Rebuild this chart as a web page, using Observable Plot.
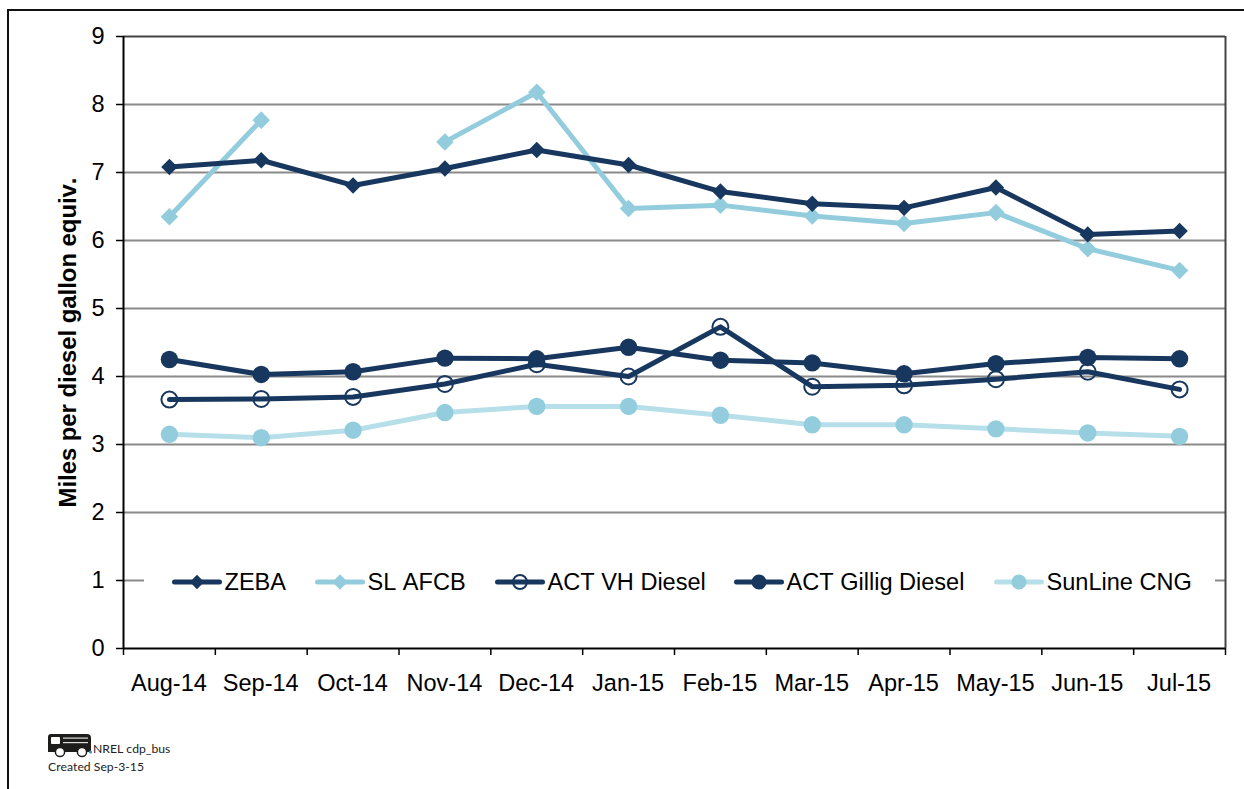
<!DOCTYPE html>
<html>
<head>
<meta charset="utf-8">
<script src="https://cdn.jsdelivr.net/npm/d3@7"></script>
<script src="https://cdn.jsdelivr.net/npm/@observablehq/plot@0.6"></script>
<style>
  html, body { margin: 0; padding: 0; background: #fff; overflow: hidden; }
  #page { position: relative; width: 1244px; height: 789px; font-family: "Liberation Sans", Arial, sans-serif; font-kerning: none; }
  #page svg { display: block; }
  #page svg text { font-kerning: none; }
  #border { position: absolute; left: 7px; top: 9px; right: 0; bottom: 0; border-top: 2px solid #111; border-left: 2px solid #111; }
  #legend { position: absolute; left: 144px; top: 566px; width: 1071px; height: 32px; background: #fff; }
  .item { position: absolute; top: 0; height: 32px; }
  .item svg { position: absolute; left: 0; top: 0; }
  .item span { position: absolute; top: 3px; font-size: 23.55px; line-height: 26px; color: #000; white-space: nowrap; }
  #credit { position: absolute; left: 47px; top: 733px; font-family: "Lato", sans-serif; font-size: 12.2px; color: #222; }
  #credit svg { position: absolute; left: 0; top: 0; }
  #credit div { position: absolute; white-space: nowrap; line-height: 14px; }
</style>
</head>
<body>
<div id="page"><div id="border"></div><div id="chart"></div><div id="legend"></div>
  <div id="credit">
    <svg width="46" height="26" viewBox="0 0 46 26">
      <path d="M4 1H40Q44 1 44 5V19H1V4Q1 1 4 1Z" fill="#1d1d1b"/>
      <rect x="4" y="4" width="9" height="7" rx="1" fill="#fff"/>
      <rect x="16" y="4.5" width="25" height="1.2" fill="#ddd"/>
      <rect x="16" y="9" width="25" height="1.2" fill="#ddd"/>
      <circle cx="13" cy="19" r="4.6" fill="#fff" stroke="#1d1d1b" stroke-width="1.5"/>
      <circle cx="35" cy="19" r="4.6" fill="#fff" stroke="#1d1d1b" stroke-width="1.5"/>
      <circle cx="43.5" cy="19" r="1.6" fill="#3f8fc4"/>
    </svg>
    <div style="left:46px;top:9px">NREL cdp_bus</div>
    <div style="left:1px;top:27px">Created Sep-3-15</div>
  </div>
</div>
<script>
const months = ["Aug-14","Sep-14","Oct-14","Nov-14","Dec-14","Jan-15","Feb-15","Mar-15","Apr-15","May-15","Jun-15","Jul-15"];
const zeba    = [7.08,7.18,6.81,7.06,7.33,7.11,6.72,6.54,6.48,6.78,6.09,6.14];
const slAfcb  = [6.35,7.77,null,7.45,8.18,6.47,6.52,6.36,6.25,6.41,5.88,5.56];
const actVh   = [3.66,3.67,3.70,3.89,4.18,4.00,4.73,3.85,3.87,3.96,4.07,3.81];
const gillig  = [4.25,4.03,4.07,4.27,4.26,4.43,4.24,4.20,4.04,4.19,4.28,4.26];
const cng     = [3.15,3.10,3.21,3.47,3.56,3.56,3.43,3.29,3.29,3.23,3.17,3.12];
const yTicks  = [0,1,2,3,4,5,6,7,8,9];
const yTitle  = "Miles per diesel gallon equiv.";

const dark = "#17375e", light = "#93cddd", pale = "#b7dfe9";
const lineWidth = 5;

// Each series: line colour, marker symbol, radius, fill, stroke
const series = [
  {name:"ZEBA",             values:zeba,   line:dark,  symbol:"diamond2", r:7.4, fill:dark,  stroke:"none", sw:0},
  {name:"SL AFCB",          values:slAfcb, line:light, symbol:"diamond2", r:7.9, fill:light, stroke:"none", sw:0},
  {name:"ACT VH Diesel",    values:actVh,  line:dark,  symbol:"circle",   r:8,   fill:"none",stroke:dark,   sw:2},
  {name:"ACT Gillig Diesel",values:gillig, line:dark,  symbol:"circle",   r:8.7, fill:dark,  stroke:"none", sw:0},
  {name:"SunLine CNG",      values:cng,    line:pale,  symbol:"circle",   r:8.7, fill:light, stroke:"none", sw:0}
];

// month slots are unit-wide, so points sit mid-slot and tick marks on slot edges
const slotCenters = months.map((_, i) => i + 0.5);
const slotEdges = d3.range(months.length + 1);

const drawOrder = [series[4], series[1], series[0], series[2], series[3]];
const seriesMarks = drawOrder.flatMap(s => {
  const rows = s.values.map((v, i) => ({x: slotCenters[i], y: v}));
  return [
    Plot.line(rows, {x:"x", y:"y", z:null, defined:d => d.y != null, stroke:s.line, strokeWidth:lineWidth, strokeLinejoin:"round", strokeLinecap:"round"}),
    Plot.dot(rows.filter(d => d.y != null), {x:"x", y:"y", symbol:()=>s.symbol, r:s.r, fill:s.fill, stroke:s.stroke, strokeWidth:s.sw})
  ];
});

const plot = Plot.plot({
  width: 1244, height: 789,
  marginLeft: 123, marginRight: 19, marginTop: 36, marginBottom: 141,
  style: {background:"transparent", fontFamily:'"Liberation Sans", Arial, sans-serif', overflow:"visible"},
  symbol: {type:"identity"},
  x: {type:"linear", domain:[0, months.length]},
  y: {domain:[0, 9]},
  marks: [
    Plot.ruleY(yTicks.filter(d => d > 0 && d < 9), {y:d => d, stroke:"#8a8a8a", strokeWidth:2}),
    Plot.ruleY([9], {y:d => d, stroke:"#444", strokeWidth:2}),
    Plot.ruleX([months.length], {x:d => d, stroke:"#444", strokeWidth:2}),
    Plot.ruleX([0], {x:d => d, stroke:"#000", strokeWidth:2}),
    Plot.axisY({ticks:yTicks, tickSize:7, tickPadding:12, fontSize:23.55, stroke:"#000", strokeWidth:1.5, fill:"#000", label:null, tickFormat:d => String(d)}),
    Plot.axisX({ticks:slotCenters, tickSize:0, tickPadding:26, fontSize:23.55, dx:-0.5, fill:"#000", label:null, tickFormat:d => months[Math.floor(d)]}),
    Plot.ruleX(slotEdges, {x:d => d, y1:0, y2:-0.103, stroke:"#000", strokeWidth:1.5}),
    Plot.ruleY([0], {y:d => d, stroke:"#000", strokeWidth:2}),
    Plot.text([yTitle], {text:d => d, frameAnchor:"left", textAnchor:"middle", dx:-55, rotate:-90, fontSize:23.85, fontWeight:"bold", fill:"#000"}),
    ...seriesMarks
  ]
});
document.getElementById("chart").appendChild(plot);

// Legend sits over the plot, hiding the middle of the gridline at 1; its markers are a little smaller than the chart's
const legendStart = [28, 171, 351, 590, 850];
const legendMarkerScale = 0.87;
const legend = d3.select("#legend");
series.forEach((s, i) => {
  const item = legend.append("div").attr("class","item").style("left", legendStart[i] + "px").style("width","60px");
  const svg = item.append("svg").attr("width",54).attr("height",32);
  svg.append("line").attr("x1",2.5).attr("x2",47.5).attr("y1",16).attr("y2",16)
    .attr("stroke",s.line).attr("stroke-width",lineWidth).attr("stroke-linecap","round");
  const r = s.r * legendMarkerScale;
  const size = Math.PI * r * r;
  const sym = s.symbol === "circle" ? d3.symbolCircle : d3.symbolDiamond2;
  svg.append("path").attr("d", d3.symbol(sym, size)()).attr("transform","translate(25,16)")
    .attr("fill",s.fill).attr("stroke",s.stroke).attr("stroke-width",s.sw);
  item.append("span").style("left","52.5px").text(s.name);
});
</script>
</body>
</html>
